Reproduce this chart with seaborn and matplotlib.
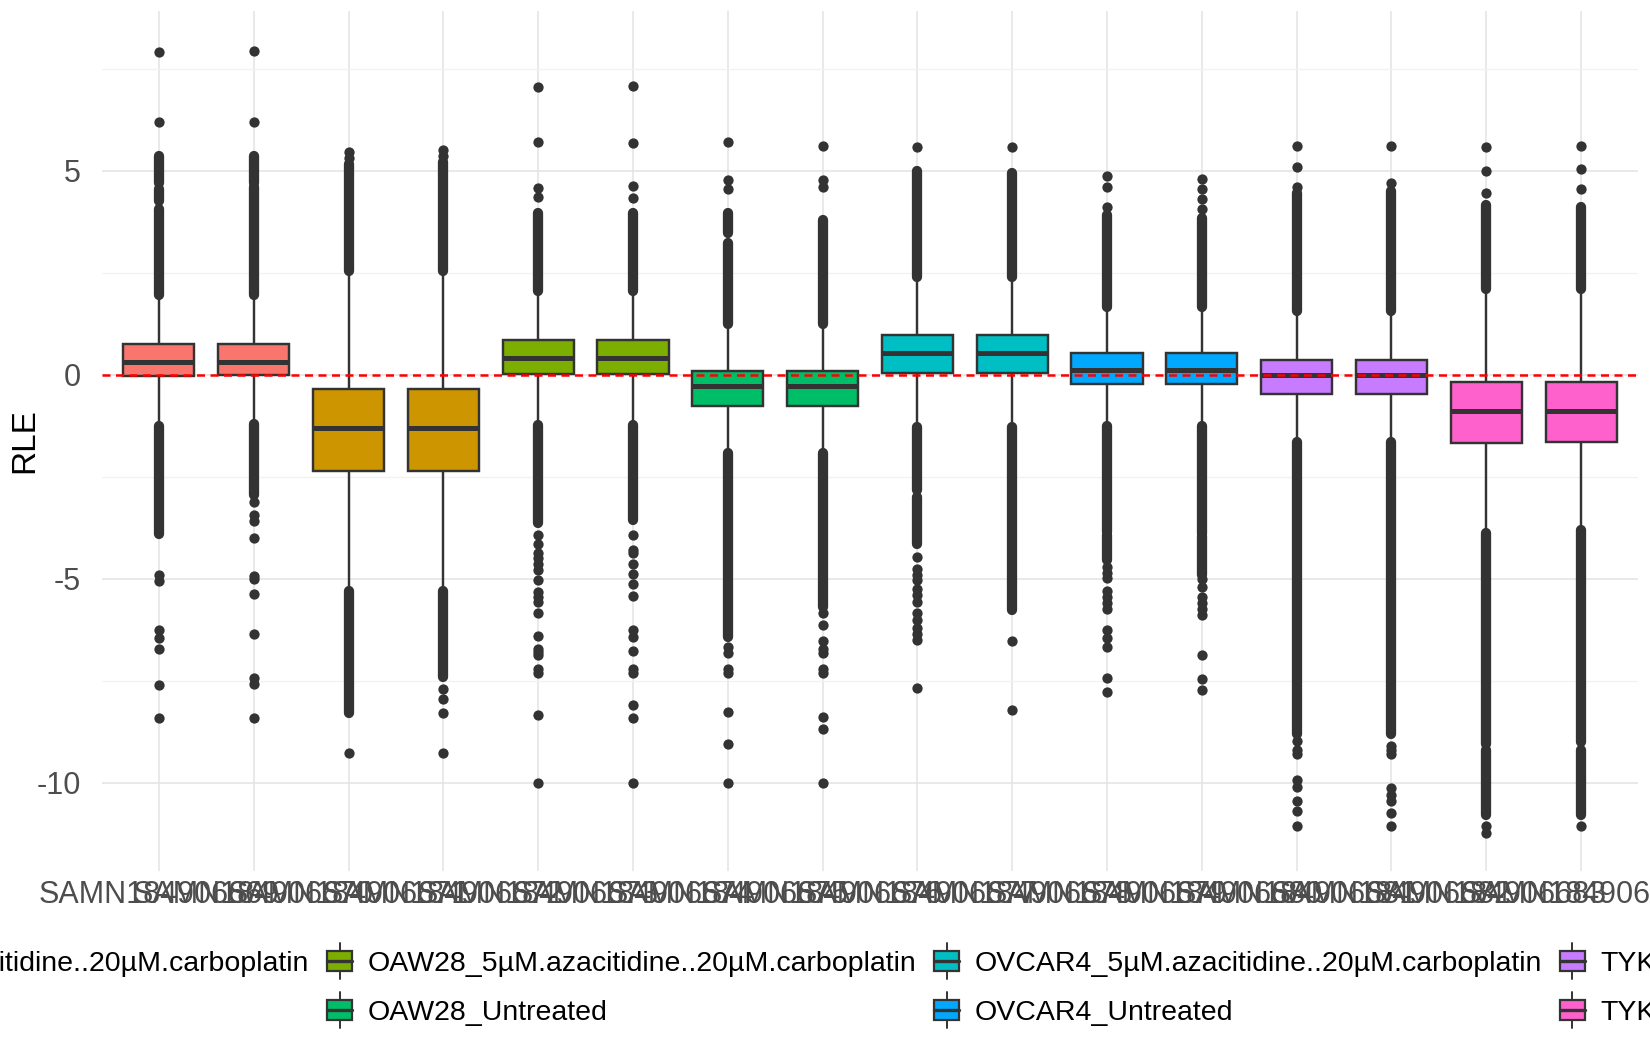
import numpy as np
import pandas as pd
import matplotlib
matplotlib.use("Agg")
import matplotlib.pyplot as plt
import seaborn as sns
from matplotlib.legend_handler import HandlerBase
from matplotlib.patches import Rectangle, Patch
from matplotlib.lines import Line2D

# ---------------- data ----------------
samples = ["SAMN184906669", "SAMN184906670", "SAMN184906671", "SAMN184906672",
           "SAMN184906673", "SAMN184906674", "SAMN184906675", "SAMN184906676",
           "SAMN184906677", "SAMN184906678", "SAMN184906679", "SAMN184906680",
           "SAMN184906681", "SAMN184906682", "SAMN184906683", "SAMN184906684"]

groups = ["A2780_5µM.azacitidine..20µM.carboplatin", "A2780_Untreated",
          "OAW28_5µM.azacitidine..20µM.carboplatin", "OAW28_Untreated",
          "OVCAR4_5µM.azacitidine..20µM.carboplatin", "OVCAR4_Untreated",
          "TYKnu_5µM.azacitidine..20µM.carboplatin", "TYKnu_Untreated"]

sample_group = [groups[0], groups[0], groups[1], groups[1],
                groups[2], groups[2], groups[3], groups[3],
                groups[4], groups[4], groups[5], groups[5],
                groups[6], groups[6], groups[7], groups[7]]

group_colors = ["#F8766D", "#CD9600", "#7CAE00", "#00BE67",
                "#00BFC4", "#00A9FF", "#C77CFF", "#FF61CC"]

whislo = [-1.15, -1.15, -5.2, -5.2, -1.15, -1.15, -1.85, -1.85,
          -1.2, -1.2, -1.2, -1.2, -1.55, -1.55, -3.8, -3.75]
q1 = [-0.03, -0.02, -2.35, -2.35, 0.01, 0.01, -0.77, -0.77,
      0.03, 0.03, -0.22, -0.22, -0.47, -0.47, -1.67, -1.66]
med = [0.31, 0.30, -1.31, -1.31, 0.41, 0.41, -0.28, -0.28,
       0.52, 0.52, 0.12, 0.12, 0.0, 0.0, -0.90, -0.90]
q3 = [0.75, 0.74, -0.36, -0.36, 0.85, 0.85, 0.09, 0.09,
      0.98, 0.98, 0.54, 0.54, 0.35, 0.35, -0.17, -0.17]
whishi = [1.85, 1.85, 2.45, 2.45, 1.95, 1.95, 1.15, 1.15,
          2.3, 2.3, 1.55, 1.55, 1.45, 1.45, 2.0, 2.0]

# runs of outliers so dense that they merge into a solid column (lo, hi)
dense_runs = [
    [(1.95, 4.05), (4.25, 4.55), (4.7, 5.35), (-3.9, -1.25)],
    [(1.95, 4.6), (4.7, 5.35), (-2.95, -1.2)],
    [(2.55, 5.15), (-8.3, -5.3)],
    [(2.55, 5.2), (-7.4, -5.3)],
    [(2.05, 3.95), (-3.64, -1.24)],
    [(2.05, 3.95), (-3.56, -1.24)],
    [(1.24, 3.22), (3.47, 3.95), (-6.42, -1.93)],
    [(1.24, 3.8), (-5.69, -1.93)],
    [(2.4, 5.0), (-2.83, -1.28), (-4.14, -2.99)],
    [(2.4, 4.95), (-5.77, -1.28)],
    [(1.65, 3.9), (-3.85, -1.26), (-4.55, -3.93)],
    [(1.65, 3.85), (-3.9, -1.26), (-4.9, -3.95)],
    [(1.55, 4.45), (-8.8, -1.65)],
    [(1.55, 4.5), (-8.8, -1.65)],
    [(2.1, 4.15), (-9.05, -3.88), (-10.8, -9.2)],
    [(2.1, 4.1), (-9.0, -3.8), (-10.8, -9.2)],
]

# individual outliers
outliers = [
    [6.2, 7.9, -4.9, -5.05, -6.25, -6.45, -6.72, -7.6, -8.42],
    [6.19, 7.94, -3.13, -3.43, -3.58, -4.0, -4.93, -5.0, -5.38, -6.36, -7.44, -7.58, -8.42],
    [5.3, 5.45, -9.28],
    [5.35, 5.5, -7.7, -7.95, -8.3, -9.28],
    [4.35, 4.57, 5.7, 7.05, -3.93, -4.15, -4.38, -4.5, -4.65, -4.79, -5.03, -5.32, -5.45,
     -5.56, -5.83, -6.4, -6.71, -6.8, -6.87, -7.2, -7.32, -8.34, -10.0],
    [4.33, 4.62, 5.67, 7.07, -3.93, -4.3, -4.38, -4.63, -4.89, -5.14, -5.43, -6.26, -6.42,
     -6.77, -7.2, -7.3, -8.1, -8.4, -10.0],
    [4.55, 4.77, 5.7, -6.67, -6.83, -7.2, -7.3, -8.26, -9.05, -10.0],
    [4.6, 4.77, 5.6, -5.85, -6.14, -6.53, -6.71, -6.83, -7.2, -7.3, -8.38, -8.69, -10.0],
    [5.59, -4.46, -4.75, -4.9, -5.03, -5.24, -5.4, -5.56, -5.85, -6.0, -6.2, -6.35, -6.5, -7.67],
    [5.59, -6.52, -8.22],
    [4.1, 4.6, 4.87, -4.7, -4.85, -4.97, -5.3, -5.45, -5.6, -5.75, -6.25, -6.45, -6.68, -7.44, -7.77],
    [4.05, 4.3, 4.55, 4.8, -5.0, -5.2, -5.45, -5.6, -5.75, -5.9, -6.87, -7.46, -7.73],
    [4.6, 5.1, 5.6, -8.97, -9.2, -9.3, -9.93, -10.1, -10.45, -10.7, -11.06],
    [4.7, 5.6, -9.1, -9.2, -9.3, -10.12, -10.3, -10.45, -10.75, -11.06],
    [4.46, 5.0, 5.59, -11.06, -11.24],
    [4.54, 5.05, 5.6, -11.06],
]

y_major = [-10, -5, 0, 5]
y_minor = [-7.5, -2.5, 2.5, 7.5]

# ---------------- style ----------------
sns.set_theme(style="white")
plt.rcParams["font.family"] = ["Liberation Sans", "DejaVu Sans"]
plt.rcParams["axes.unicode_minus"] = False

palette = dict(zip(groups, group_colors))
DARK = "#333333"

fig = plt.figure(figsize=(16.5, 10.5), dpi=100)
ax = fig.add_axes([102 / 1650, 1 - 871 / 1050, 1536 / 1650, 860 / 1050])

# summary table -> boxes (five-number values, whiskers to min/max)
rows = []
for s, g, a, b, c, d, e in zip(samples, sample_group, whislo, q1, med, q3, whishi):
    for v in (a, b, c, d, e):
        rows.append({"sample": s, "group": g, "RLE": v})
box_df = pd.DataFrame(rows)

sns.boxplot(data=box_df, x="sample", y="RLE", hue="group", order=samples,
            hue_order=groups, palette=palette, dodge=False, width=0.75,
            whis=np.inf, showfliers=False, saturation=1, linecolor=DARK,
            linewidth=1.75, medianprops={"linewidth": 3.6, "color": DARK},
            legend=False, ax=ax, zorder=2)
for cont in ax.containers:
    for cap in getattr(cont, "caps", []):
        cap.set_visible(False)

# dense outlier columns
for i, runs in enumerate(dense_runs):
    for lo, hi in runs:
        ax.vlines(i, lo, hi, colors=DARK, linewidths=7.4, capstyle="round", zorder=3)

# individual outliers
out_rows = []
for s, vals in zip(samples, outliers):
    for v in vals:
        out_rows.append({"sample": s, "RLE": v})
out_df = pd.DataFrame(out_rows)
sns.stripplot(data=out_df, x="sample", y="RLE", order=samples, jitter=False,
              color=DARK, size=7.4, linewidth=0, ax=ax, zorder=3)

ax.axhline(0, color="#FF0000", lw=1.8, ls=(0, (3.2, 2.2)), zorder=5)

ax.set_xlim(-0.6, len(samples) - 0.4)
ax.set_ylim(-12.16, 8.91)
ax.set_yticks(y_major)
ax.set_yticklabels([str(v) for v in y_major])
ax.set_yticks(y_minor, minor=True)
ax.set_xticks(range(len(samples)))
ax.set_xticklabels(samples)

ax.set_axisbelow(True)
ax.grid(True, which="major", axis="both", color="#E3E3E3", lw=1.1)
ax.grid(True, which="minor", axis="y", color="#F1F1F1", lw=0.9)
for sp in ax.spines.values():
    sp.set_visible(False)

ax.tick_params(axis="both", which="major", length=4.2, width=0.8, color="#D5D5D5",
               labelsize=22, labelcolor="#4D4D4D")
ax.tick_params(axis="y", which="major", pad=11)
ax.tick_params(axis="x", which="major", pad=2.5)
ax.tick_params(axis="y", which="minor", length=0)

ax.set_xlabel("")
ax.set_ylabel("RLE", fontsize=24, color="black")
ax.yaxis.set_label_coords(-0.040, 0.5)


# ---------------- legend with boxplot keys ----------------
class BoxKeyHandler(HandlerBase):
    def create_artists(self, legend, orig_handle, xdescent, ydescent,
                       width, height, fontsize, trans):
        x0, y0 = -xdescent, -ydescent
        cx = x0 + width / 2
        whisk = Line2D([cx, cx], [y0 - 0.2 * height, y0 + 1.2 * height],
                       color=DARK, lw=1.4, transform=trans)
        rect = Rectangle((x0, y0 + 0.1 * height), width, 0.8 * height,
                         facecolor=orig_handle.get_facecolor(), edgecolor=DARK,
                         lw=1.6, transform=trans)
        medl = Line2D([x0, x0 + width], [y0 + height / 2] * 2, color=DARK,
                      lw=2.4, transform=trans)
        return [whisk, rect, medl]


handles = [Patch(facecolor=c) for c in group_colors]
anchor = [0.0, 0.12]
leg = fig.legend(handles, groups, ncol=4, loc="upper left", bbox_to_anchor=anchor,
                 frameon=False, fontsize=20.5, handler_map={Patch: BoxKeyHandler()},
                 handlelength=0.9, handleheight=1.0, handletextpad=0.55,
                 columnspacing=0.6, labelspacing=0.72, borderpad=0, borderaxespad=0)
for t in leg.get_texts():
    t.set_color("black")

fig.canvas.draw()
renderer = fig.canvas.get_renderer()
ref_text = leg.get_texts()[2]
bb = ref_text.get_window_extent(renderer)
target_x0 = 368.0
target_yc = 1050 - 964.0
dx = target_x0 - bb.x0
dy = target_yc - (bb.y0 + bb.y1) / 2
leg.set_bbox_to_anchor((anchor[0] + dx / 1650, anchor[1] + dy / 1050), transform=fig.transFigure)

fig.savefig("out.png", dpi=100)
